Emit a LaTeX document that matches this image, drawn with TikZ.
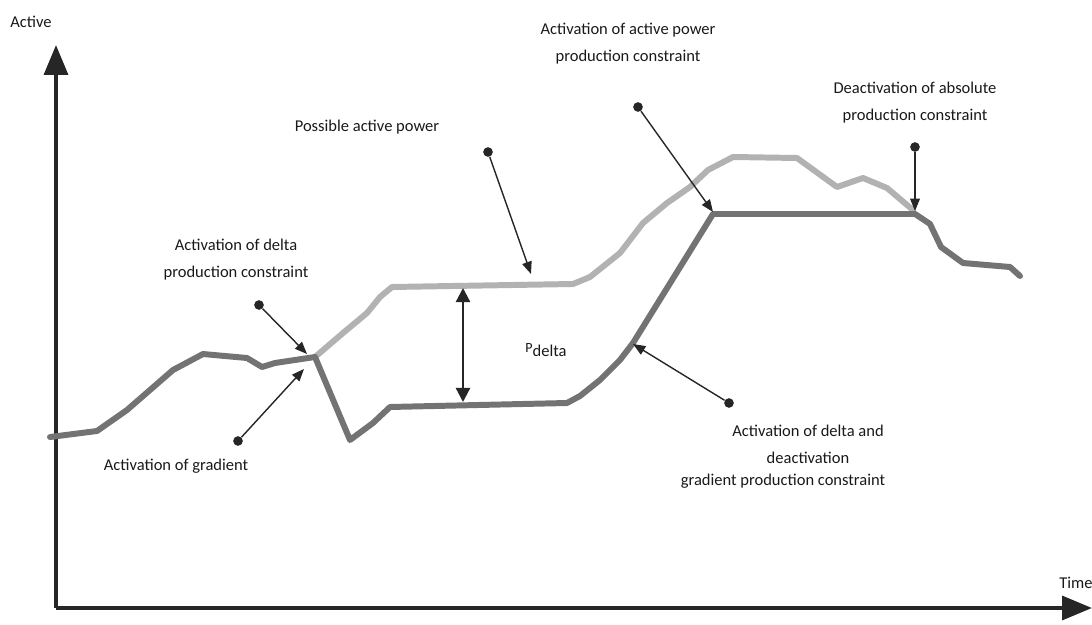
\documentclass[tikz,border=0pt]{standalone}
\usepackage{fontspec}
\setmainfont{Carlito}
\usetikzlibrary{arrows.meta,positioning,calc}

\begin{document}
\begin{tikzpicture}[x=0.02cm,y=-0.02cm,
  axis/.style={line width=2.3pt,draw=black!85,-{Triangle[length=17pt,width=13.5pt]}},
  curve/.style={line width=3.4pt,line join=round,line cap=round},
  actual/.style={curve,draw=black!55},
  possible/.style={curve,draw=black!30},
  dot/.style={circle,fill=black!85,inner sep=0pt,minimum size=5.5pt},
  callout/.style={line width=0.8pt,draw=black!85,-{Triangle[length=7pt,width=5.5pt]}},
  lbl/.style={font=\fontsize{9.4}{15.4}\selectfont,align=center,text=black!90,inner sep=1pt}
]
\useasboundingbox (0,0) rectangle (1092,625);

% axes
\coordinate (origin) at (56,608);
\draw[axis] (origin) -- (56,45) coordinate (ytip);
\draw[axis] (origin) -- (1092,608) coordinate (xtip);
\node[lbl] (active) at (31,22) {Active};
\node[lbl] (time)   at (1076,583) {Time};

% possible active power (light)
\draw[possible] (315,357) -- (343,333) -- (367,313) -- (380,297) -- (392,287)
  -- (573,284) -- (590,277) -- (620,253) -- (643,223) -- (667,203) -- (690,187)
  -- (708,170) -- (733,157) -- (797,158) -- (837,187) -- (863,178) -- (887,188) -- (913,210);

% produced active power (dark)
\draw[actual] (50,437) -- (97,431) -- (127,410) -- (173,370) -- (203,354) -- (247,358)
  -- (262,367) -- (275,363) -- (315,357) -- (350,440) -- (373,423) -- (390,407)
  -- (567,403) -- (580,396) -- (600,380) -- (620,360) -- (633,343) -- (713,214)
  -- (915,214) -- (930,224) -- (941,247) -- (963,263) -- (1010,267) -- (1020,276);

% P_delta
\coordinate (ptop) at (463,288);
\coordinate (pbot) at (463,402);
\draw[line width=1.3pt,draw=black!85,{Triangle[length=8pt,width=8pt]}-{Triangle[length=8pt,width=8pt]}] (ptop) -- (pbot);
\node[lbl] (pdelta) at (546,350) {\raisebox{2pt}{\fontsize{8}{9}\selectfont P}delta};

% callouts
\node[dot] (dDelta)    at (259,305) {};
\node[dot] (dGrad)     at (238,441) {};
\node[dot] (dPossible) at (488,152) {};
\node[dot] (dAbsAct)   at (638,107) {};
\node[dot] (dAbsDeact) at (915,147) {};
\node[dot] (dGradDeact) at (729,403) {};

\draw[callout] (dDelta) -- (307,354);
\draw[callout] (dGrad) -- (304,369);
\draw[callout] (dPossible) -- (531,274);
\draw[callout] (dAbsAct) -- (713,212);
\draw[callout] (dAbsDeact) -- (915,211);
\draw[callout] (dGradDeact) -- (633,344);

% labels
\node[lbl] (lAbsAct)   at (628,44)  {Activation of active power\\production constraint};
\node[lbl] (lPossible) at (367,127) {Possible active power};
\node[lbl] (lAbsDeact) at (915,103) {Deactivation of absolute\\production constraint};
\node[lbl] (lDelta)    at (236,260) {Activation of delta\\production constraint};
\node[lbl] (lGrad)     at (176,466) {Activation of gradient};
\node[lbl] (lGradDeact) at (808,444) {Activation of delta and\\deactivation};
\node[lbl] (lGradDeact2) at (783,481) {gradient production constraint};

\end{tikzpicture}
\end{document}
